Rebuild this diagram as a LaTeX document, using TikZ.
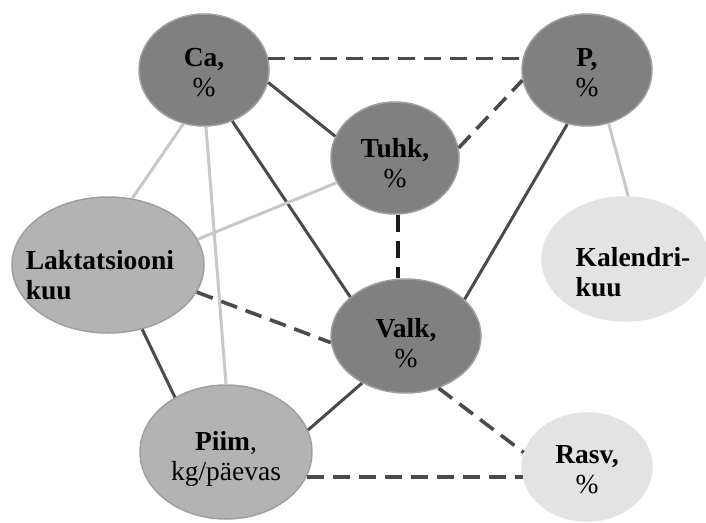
\documentclass[tikz,border=0pt]{standalone}
\usepackage{fontspec}
\setmainfont{Liberation Serif}
\usetikzlibrary{shapes.geometric}
\definecolor{nodedark}{HTML}{808080}
\definecolor{nodemid}{HTML}{B3B3B3}
\definecolor{nodelight}{HTML}{E3E3E3}
\definecolor{edgedark}{HTML}{4A4A4A}
\definecolor{edgelight}{HTML}{C8C8C8}
\tikzset{
  nd/.style={ellipse, inner sep=0pt, line width=1.5pt},
  ndark/.style={nd, fill=nodedark, draw=gray!75},
  nmid/.style={nd, fill=nodemid, draw=gray!75},
  nlight/.style={nd, fill=nodelight, draw=gray!22},
  txt/.style={font=\fontsize{27.5}{30}\selectfont, align=center, inner sep=0pt},
  solidedge/.style={draw=edgedark, line width=3pt},
  lightedge/.style={draw=edgelight, line width=3pt},
  dashedge/.style={draw=edgedark, line width=3.6pt, dash pattern=on 17pt off 9pt},
}
\begin{document}
\begin{tikzpicture}[x=1pt,y=-1pt]
\useasboundingbox (0,0) rectangle (706,522);
\fill[white] (0,0) rectangle (706,522);

% nodes
\node[ndark, minimum width=130pt, minimum height=112pt,
  label={[txt, yshift=-3pt]center:{\textbf{Ca,}\\\%}}] (Ca) at (204,70) {};
\node[ndark, minimum width=130pt, minimum height=112pt,
  label={[txt, yshift=-3pt]center:{\textbf{P,}\\\%}}] (P) at (587,70) {};
\node[ndark, minimum width=128pt, minimum height=112pt,
  label={[txt, yshift=-5pt]center:{\textbf{Tuhk,}\\\%}}] (Tuhk) at (395,158) {};
\node[nmid, minimum width=192pt, minimum height=136pt,
  label={[txt, align=left, xshift=-8pt, yshift=-10pt]center:{\textbf{Laktatsiooni}\\\textbf{kuu}}}] (Lakt) at (108,265) {};
\node[nlight, minimum width=166pt, minimum height=124pt,
  label={[txt, align=left, xshift=8pt, yshift=-13pt]center:{\textbf{Kalendri-}\\\textbf{kuu}}}] (Kal) at (625,259) {};
\node[ndark, minimum width=150pt, minimum height=114pt,
  label={[txt, yshift=-7pt]center:{\textbf{Valk,}\\\%}}] (Valk) at (406,336) {};
\node[nmid, minimum width=172pt, minimum height=134pt,
  label={[txt, yshift=-7pt]center:{\textbf{Piim},\\kg/päevas}}] (Piim) at (226,452) {};
\node[nlight, minimum width=130pt, minimum height=108pt,
  label={[txt, yshift=-3pt]center:{\textbf{Rasv,}\\\%}}] (Rasv) at (587,467) {};

% connectors
\draw[dashedge] (Ca.10) -- (P.170);
\draw[solidedge] (Ca.-11.5) -- (Tuhk.160.7);
\draw[solidedge] (Ca.-61) -- (Valk.145);
\draw[lightedge] (Ca.-111) -- (Lakt.70);
\draw[lightedge] (Ca.-88) -- (Piim.90);
\draw[dashedge] (Tuhk.9.6) -- (P.-171);
\draw[lightedge] (Tuhk.203) -- (Lakt.16);
\draw[draw=black!90, line width=3.6pt, dash pattern=on 17pt off 9pt] (Tuhk.-87) -- (Tuhk.-87 |- Valk.north);
\draw[solidedge] (P.-110.6) -- (Valk.32.7);
\draw[lightedge] (P.-68.7) -- (Kal.87);
\draw[dashedge] (Lakt.-17) -- (Valk.-175);
\draw[solidedge] (Lakt.-62) -- (Piim.133);
\draw[solidedge] (Piim.15.8) -- (Valk.227.5);
\draw[dashedge] (Piim.-17) -- (Piim.-17 -| Rasv.190);
\draw[dashedge] (Valk.-58) -- (Rasv.167);
\end{tikzpicture}
\end{document}
